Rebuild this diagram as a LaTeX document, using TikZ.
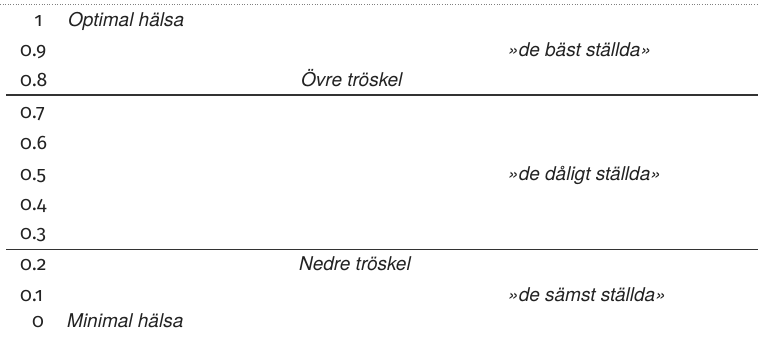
\documentclass[tikz,border=0pt]{standalone}
\usepackage{fontspec}
\setmainfont{TeX Gyre Heros}
\newfontfamily\numfont[Numbers=OldStyle]{Fira Sans}
\definecolor{ink}{HTML}{222222}
\definecolor{rule}{HTML}{333333}
\begin{document}
\begin{tikzpicture}[x=1pt,y=-1pt,
  lbl/.style={anchor=base west,inner sep=0pt,font=\fontsize{19}{22}\selectfont\itshape,text=ink},
  num/.style={anchor=base west,inner sep=0pt,font=\fontsize{19.5}{22}\selectfont\numfont,text=ink},
  numc/.style={anchor=base,inner sep=0pt,font=\fontsize{19.5}{22}\selectfont\numfont,text=ink},
  sep/.style={draw=rule,line width=1.2pt}]
\useasboundingbox (0,0) rectangle (758,338);
\coordinate (tl) at (0,4.5);
\coordinate (tr) at (758,4.5);
\draw[gray,dotted,line width=0.6pt] (tl) -- (tr);
\coordinate (u1) at (6,95);
\coordinate (u2) at (758,95);
\coordinate (l1) at (6,249.5);
\coordinate (l2) at (758,249.5);
\draw[sep] (u1) -- (u2);
\draw[sep] (l1) -- (l2);
\node[numc] (n10) at (38.5,26) {1};
\node[num] (n9) at (20,56) {0.9};
\node[num] (n8) at (20,86) {0.8};
\node[num] (n7) at (20,118) {0.7};
\node[num] (n6) at (20,149) {0.6};
\node[num] (n5) at (20,180) {0.5};
\node[num] (n4) at (20,210) {0.4};
\node[num] (n3) at (20,239) {0.3};
\node[num] (n2) at (20,270) {0.2};
\node[num] (n1) at (20,301) {0.1};
\node[numc] (n0) at (38,327) {0};
\node[lbl] (opt) at (68,26) {Optimal hälsa};
\node[lbl] (best) at (508,56) {»de bäst ställda»};
\node[lbl] (ovre) at (301,86) {Övre tröskel};
\node[lbl] (dal) at (508,180) {»de dåligt ställda»};
\node[lbl] (ned) at (299,270) {Nedre tröskel};
\node[lbl] (sam) at (508,301) {»de sämst ställda»};
\node[lbl] (min) at (67,327) {Minimal hälsa};
\end{tikzpicture}
\end{document}
